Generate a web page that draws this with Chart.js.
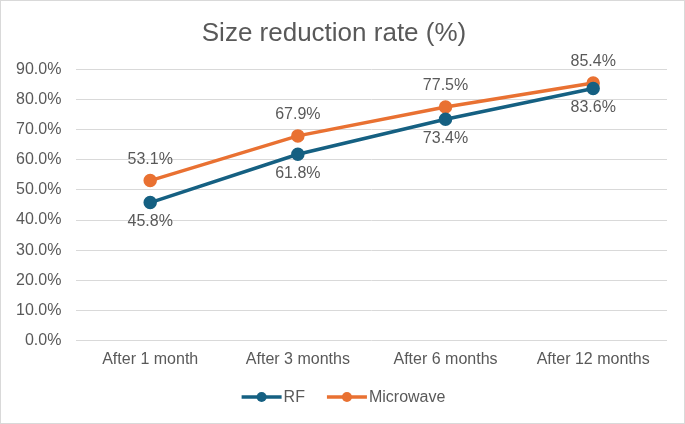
<!DOCTYPE html>
<html><head><meta charset="utf-8">
<script src="https://cdn.jsdelivr.net/npm/chart.js@4/dist/chart.umd.min.js"></script>
<style>
html,body{margin:0;padding:0;background:#fff;}
#wrap{position:absolute;left:0;top:0;width:683px;height:422px;border:1px solid #d9d9d9;}
canvas{display:block;}
</style></head><body>
<div id="wrap"><canvas id="c" width="683" height="422"></canvas></div>
<script>
const categories = ['After 1 month','After 3 months','After 6 months','After 12 months'];
const rfValues = [45.8, 61.8, 73.4, 83.6];
const microwaveValues = [53.1, 67.9, 77.5, 85.4];
const yTicks = [0,10,20,30,40,50,60,70,80,90];

const FONT = '"Liberation Sans", Arial, sans-serif';
const TXT = '#595959';

const labelPlugin = {
  id:'labels',
  afterDatasetsDraw(chart){
    const ctx = chart.ctx;
    ctx.save();
    ctx.font = '16px ' + FONT;
    ctx.fillStyle = TXT;
    ctx.textAlign = 'center';
    ctx.textBaseline = 'middle';
    chart.data.datasets.forEach((ds, i) => {
      const meta = chart.getDatasetMeta(i);
      meta.data.forEach((pt, j) => {
        const off = ds.labelPos === 'above' ? -21 : 19;
        ctx.fillText(ds.data[j].toFixed(1) + '%', pt.x, pt.y + off);
      });
    });
    ctx.restore();
  }
};

const legendPlugin = {
  id:'customLegend',
  afterDraw(chart){
    const ctx = chart.ctx;
    ctx.save();
    ctx.font = '16px ' + FONT;
    const lineW = 40, gapT = 2, gapItem = 22;
    const items = chart.data.datasets.map(ds => ({ds, tw: ctx.measureText(ds.label).width}));
    let total = 0;
    items.forEach((it, i) => { total += lineW + gapT + it.tw + (i < items.length - 1 ? gapItem : 0); });
    let x = chart.width / 2 - total / 2 + 1;
    const y = 396;
    items.forEach(it => {
      const c = it.ds.borderColor;
      ctx.strokeStyle = c; ctx.lineWidth = 3.5;
      ctx.beginPath(); ctx.moveTo(x, y); ctx.lineTo(x + lineW, y); ctx.stroke();
      ctx.fillStyle = c;
      ctx.beginPath(); ctx.arc(x + lineW / 2, y, 5, 0, Math.PI * 2); ctx.fill();
      ctx.fillStyle = TXT; ctx.textAlign = 'left'; ctx.textBaseline = 'middle';
      ctx.fillText(it.ds.label, x + lineW + gapT, y + 1);
      x += lineW + gapT + it.tw + gapItem;
    });
    ctx.restore();
  }
};

new Chart(document.getElementById('c'), {
  type:'line',
  data:{
    labels: categories,
    datasets:[
      {label:'RF', data: rfValues, borderColor:'#156082', backgroundColor:'#156082', borderWidth:3.5, pointRadius:5, pointHoverRadius:5, labelPos:'below'},
      {label:'Microwave', data: microwaveValues, borderColor:'#E97132', backgroundColor:'#E97132', borderWidth:3.5, pointRadius:5, pointHoverRadius:5, labelPos:'above'}
    ]
  },
  options:{
    responsive:false,
    animation:false,
    layout:{padding:{left:0, right:17, top:6, bottom:53}},
    plugins:{
      title:{display:true, text:'Size reduction rate (%)', color:TXT, font:{size:26, family:FONT, weight:'normal'}, padding:{top:11, bottom:20}},
      legend:{display:false},
      tooltip:{enabled:false}
    },
    scales:{
      x:{offset:true, grid:{display:false}, border:{display:false}, ticks:{color:TXT, font:{size:16, family:FONT}, padding:1, maxRotation:0}},
      y:{min:0, max:90, afterBuildTicks(axis){axis.ticks = yTicks.map(v=>({value:v}));},
        grid:{color:'#d9d9d9', lineWidth:1, drawTicks:false}, border:{display:false},
        ticks:{color:TXT, font:{size:16, family:FONT}, padding:15, callback:(v)=>v.toFixed(1)+'%'}}
    }
  },
  plugins:[labelPlugin, legendPlugin]
});
</script>
</body></html>
